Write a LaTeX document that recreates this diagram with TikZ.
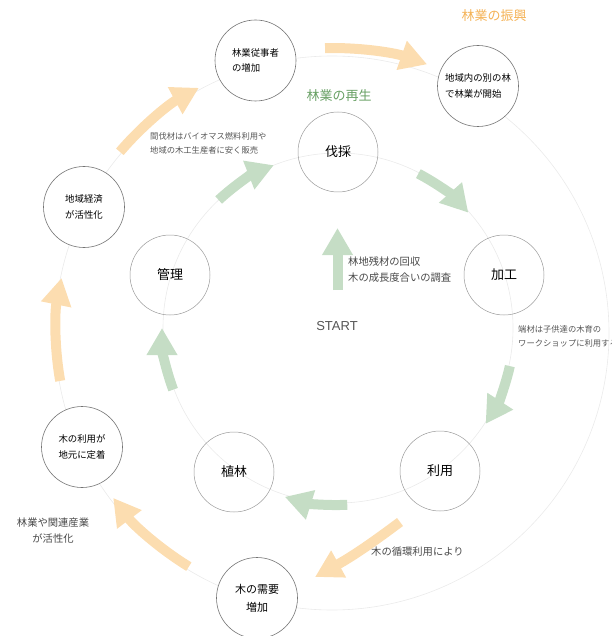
\documentclass[tikz,border=0pt]{standalone}
\usepackage{fontspec}
\setmainfont{Noto Sans CJK JP}
\newfontfamily\latfont{Liberation Sans}
\usetikzlibrary{arrows.meta,calc}
\definecolor{gfill}{RGB}{197,221,197}
\definecolor{ofill}{RGB}{252,221,176}
\definecolor{gtext}{RGB}{104,160,100}
\definecolor{otext}{RGB}{244,178,86}
\definecolor{notegray}{RGB}{85,85,85}
\definecolor{ringgray}{RGB}{234,234,234}
\begin{document}
\begin{tikzpicture}[x=1pt,y=-1pt,
  outernode/.style={circle,draw=black!55,line width=0.6pt,fill=white,minimum size=81pt,inner sep=0pt,align=left,font=\fontsize{9.4}{15.5}\selectfont},
  innernode/.style={circle,draw=black!40,line width=0.5pt,minimum size=80pt,inner sep=0pt,font=\fontsize{13}{15}\selectfont},
  garrow/.style={draw=gfill,line width=10pt,-{Triangle[width=29pt,length=27pt]}},
  oarrow/.style={draw=ofill,line width=10pt,-{Triangle[width=29pt,length=27pt]}},
  smallnote/.style={text=notegray,align=left,inner sep=0pt,font=\fontsize{8.3}{13.5}\selectfont},
  midnote/.style={text=notegray!85!black,align=left,inner sep=0pt,font=\fontsize{10.3}{16}\selectfont},
  titletext/.style={inner sep=0pt,font=\fontsize{13}{15}\selectfont}
]
\useasboundingbox (0,0) rectangle (611,636);
\coordinate (O) at (332,333);
\coordinate (C) at (338,328);
% faint rings
\draw[ringgray,line width=0.6pt] (O) circle[radius=277];
\draw[ringgray,line width=0.6pt] (C) circle[radius=175];

% orange arrows (outer cycle)
\coordinate (o1) at ($(O)+(220.5:279)$);
\coordinate (o2) at ($(O)+(268.6:285)$);
\coordinate (o3) at ($(O)+(170:276)$);
\coordinate (o4) at ($(O)+(121.5:274)$);
\draw[oarrow] (o1) arc[start angle=220.5,end angle=241.5,radius=279];
\draw[oarrow] (o2) arc[start angle=268.6,end angle=289.5,radius=285];
\draw[oarrow] (o3) arc[start angle=170,end angle=191.5,radius=276];
\draw[oarrow] (o4) arc[start angle=121.5,end angle=143,radius=274];
\coordinate (o5s) at (400,522);
\coordinate (o5e) at (315,577);
\draw[oarrow] (o5s) to[bend left=4] (o5e);

% green arrows (inner cycle)
\coordinate (g1) at ($(C)+(227:175)$);
\coordinate (g2) at ($(C)+(297.5:174)$);
\coordinate (g3) at ($(C)+(12.5:176)$);
\coordinate (g4) at ($(C)+(87:177)$);
\coordinate (g5) at ($(C)+(159.5:176)$);
\draw[garrow] (g1) arc[start angle=227,end angle=248.5,radius=175];
\draw[garrow] (g2) arc[start angle=297.5,end angle=318.5,radius=174];
\draw[garrow] (g3) arc[start angle=12.5,end angle=33,radius=176];
\draw[garrow] (g4) arc[start angle=87,end angle=107.5,radius=177];
\draw[garrow] (g5) arc[start angle=159.5,end angle=180,radius=176];
\coordinate (sa) at (337.5,290);
\coordinate (sb) at (337.5,228);
\draw[garrow] (sa) -- (sb);

% inner nodes
\node[innernode] (bassai) at (338,152) {伐採};
\node[innernode] (kakou) at (504,275) {加工};
\node[innernode] (riyou) at (440,471) {利用};
\node[innernode] (shokurin) at (234,472) {植林};
\node[innernode] (kanri) at (170,275) {管理};

% outer nodes
\node[outernode] (juuji) at (255.5,60.5) {林業従事者\\の増加};
\node[outernode] (betsu) at (478,86) {地域内の別の林\\で林業が開始};
\node[outernode] (keizai) at (84,207) {地域経済\\が活性化};
\node[outernode] (teichaku) at (82,447) {木の利用が\\地元に定着};
\node[outernode,align=center,font=\fontsize{11}{18}\selectfont] (juyou) at (257,598) {木の需要\\増加};

% titles
\node[titletext,text=otext] (shinkou) at (494,16) {林業の振興};
\node[titletext,text=gtext] (saisei) at (339,96) {林業の再生};

% notes
\node[smallnote,anchor=west] (kanbatsu) at (150,143.5) {間伐材はバイオマス燃料利用や\\地域の木工生産者に安く販売};
\node[midnote,anchor=west] (rinchi) at (348,270) {林地残材の回収\\木の成長度合いの調査};
\node[inner sep=0pt,text=notegray,font=\latfont\fontsize{13}{15}\selectfont] (start) at (337,326) {START};
\node[smallnote,anchor=west] (hazai) at (518,336.5) {端材は子供達の木育の\\ワークショップに利用する};
\node[midnote,anchor=west] (junkan) at (371,552) {木の循環利用により};
\node[midnote,align=center] (kanren) at (53,531) {林業や関連産業\\が活性化};
\end{tikzpicture}
\end{document}
